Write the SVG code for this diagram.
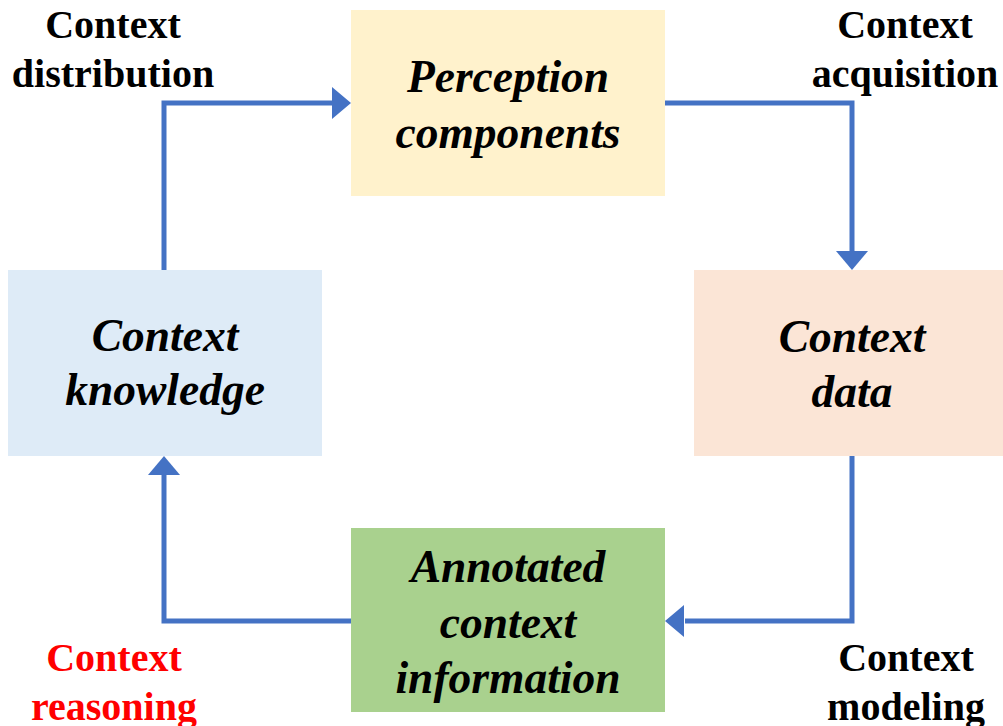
<svg xmlns="http://www.w3.org/2000/svg" width="1003" height="726" viewBox="0 0 1003 726">
<style>
.node-text{font-family:"Liberation Serif","Times New Roman",serif;font-weight:bold;font-style:italic;font-size:45.5px;fill:#000;text-anchor:middle}
.lbl{font-family:"Liberation Serif","Times New Roman",serif;font-weight:bold;font-size:40px;fill:#000;text-anchor:middle}
.red{fill:#FF0000}
.conn{fill:none;stroke:#4472C4;stroke-width:5}
.head{fill:#4472C4}
</style>
<rect width="1003" height="726" fill="#fff"/>
<g id="connectors">
<polyline class="conn" points="665,103 852,103 852,252"/>
<polygon class="head" points="836,251 868,251 852,270"/>
<polyline class="conn" points="852,456 852,621 685,621"/>
<polygon class="head" points="684,605 684,637 665,621"/>
<polyline class="conn" points="351,621 164,621 164,474"/>
<polygon class="head" points="148,475 180,475 164,456"/>
<polyline class="conn" points="164,270 164,103 333,103"/>
<polygon class="head" points="332,87 332,119 351,103"/>
</g>
<g id="perception">
<rect x="351" y="10" width="314" height="186" fill="#FFF2CC"/>
<text class="node-text" x="508" y="92">Perception</text>
<text class="node-text" x="508" y="148">components</text>
</g>
<g id="context-data">
<rect x="694" y="270" width="316" height="186" fill="#FBE5D6"/>
<text class="node-text" x="852" y="352">Context</text>
<text class="node-text" x="852" y="407">data</text>
</g>
<g id="annotated">
<rect x="351" y="528" width="314" height="184" fill="#A9D18E"/>
<text class="node-text" x="508" y="582">Annotated</text>
<text class="node-text" x="508" y="638">context</text>
<text class="node-text" x="508" y="693">information</text>
</g>
<g id="knowledge">
<rect x="8" y="270" width="314" height="186" fill="#DEEBF7"/>
<text class="node-text" x="165" y="351">Context</text>
<text class="node-text" x="165" y="405">knowledge</text>
</g>
<g id="labels">
<text class="lbl" x="113" y="38">Context</text>
<text class="lbl" x="113" y="87">distribution</text>
<text class="lbl" x="905" y="38">Context</text>
<text class="lbl" x="905" y="87">acquisition</text>
<text class="lbl red" x="114" y="671">Context</text>
<text class="lbl red" x="114" y="720">reasoning</text>
<text class="lbl" x="906" y="671">Context</text>
<text class="lbl" x="906" y="720">modeling</text>
</g>
</svg>
